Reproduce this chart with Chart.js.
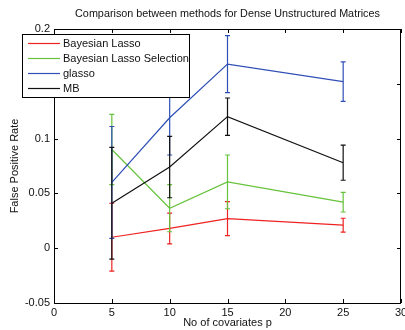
<!DOCTYPE html>
<html>
<head>
<meta charset="utf-8">
<script src="https://cdn.jsdelivr.net/npm/chart.js@4.4.0/dist/chart.umd.min.js"></script>
<style>
html, body { margin: 0; padding: 0; background: #fff; }
</style>
</head>
<body>
<canvas id="chartgraph" width="405" height="330"></canvas>
<script>
// data
var covariates = [5, 10, 15, 25];

var lasso        = [0.010, 0.018, 0.027, 0.021];
var lassoErr     = [0.031, 0.014, 0.0155, 0.0063];
var selection    = [0.090, 0.0365, 0.0605, 0.042];
var selectionErr = [0.032, 0.0215, 0.0245, 0.009];
var glasso       = [0.060, 0.119, 0.168, 0.152];
var glassoErr    = [0.051, 0.034, 0.026, 0.018];
var mb           = [0.041, 0.074, 0.120, 0.078];
var mbErr        = [0.051, 0.028, 0.017, 0.016];

var seriesNames = ['Bayesian Lasso', 'Bayesian Lasso Selection', 'glasso', 'MB'];
var seriesColors = ['#ee2222', '#66c23a', '#2f4fb5', '#111111'];
var seriesValues = [lasso, selection, glasso, mb];
var seriesErrors = [lassoErr, selectionErr, glassoErr, mbErr];

var xTicksMin = 0, xTicksMax = 30, xStep = 5;
var yTicksMin = -0.05, yTicksMax = 0.2, yStep = 0.05;

var fontFam = '"Liberation Sans", Arial, Helvetica, sans-serif';

function toPoints(vals) {
  return vals.map(function(v, i) { return {x: covariates[i], y: v}; });
}

var datasets = seriesNames.map(function(name, i) {
  return {
    label: name,
    data: toPoints(seriesValues[i]),
    borderColor: seriesColors[i],
    backgroundColor: seriesColors[i],
    borderWidth: 1.2,
    pointRadius: 0,
    tension: 0,
    order: seriesNames.length - i
  };
});

// error bars, axes box, inner ticks and the boxed legend
var matlabStyle = {
  id: 'matlabStyle',
  afterDatasetDraw: function(chart, args) {
    var i = args.index;
    var c = chart.ctx, xs = chart.scales.x, ys = chart.scales.y;
    var vals = seriesValues[i], errs = seriesErrors[i];
    c.save();
    c.strokeStyle = seriesColors[i];
    c.lineWidth = 1.2;
    c.beginPath();
    for (var k = 0; k < vals.length; k++) {
      var px = xs.getPixelForValue(covariates[k]);
      var top = ys.getPixelForValue(vals[k] + errs[k]);
      var bot = ys.getPixelForValue(vals[k] - errs[k]);
      c.moveTo(px, top); c.lineTo(px, bot);
      c.moveTo(px - 2.5, top); c.lineTo(px + 2.5, top);
      c.moveTo(px - 2.5, bot); c.lineTo(px + 2.5, bot);
    }
    c.stroke();
    c.restore();
  },
  afterDraw: function(chart) {
    var c = chart.ctx, a = chart.chartArea;
    var xs = chart.scales.x, ys = chart.scales.y;
    c.save();
    c.strokeStyle = '#000';
    c.lineWidth = 1;
    c.beginPath();
    xs.ticks.forEach(function(t) {
      var px = Math.round(xs.getPixelForValue(t.value)) + 0.5;
      c.moveTo(px, a.bottom); c.lineTo(px, a.bottom - 4);
      c.moveTo(px, a.top); c.lineTo(px, a.top + 4);
    });
    ys.ticks.forEach(function(t) {
      var py = Math.round(ys.getPixelForValue(t.value)) + 0.5;
      c.moveTo(a.left, py); c.lineTo(a.left + 4, py);
      c.moveTo(a.right, py); c.lineTo(a.right - 4, py);
    });
    c.stroke();
    c.strokeRect(Math.round(a.left) + 0.5, Math.round(a.top) + 0.5,
                 Math.round(a.right - a.left) - 1, Math.round(a.bottom - a.top));

    // legend box
    var lx = 22.5, ly = 34.5, lw = 167, lh = 63;
    c.fillStyle = '#fff';
    c.fillRect(lx, ly, lw, lh);
    c.strokeStyle = '#000';
    c.strokeRect(lx, ly, lw, lh);
    c.font = '11px ' + fontFam;
    c.textBaseline = 'middle';
    c.textAlign = 'left';
    seriesNames.forEach(function(name, i) {
      var ry = 43.5 + 15 * i;
      c.strokeStyle = seriesColors[i];
      c.lineWidth = 1.2;
      c.beginPath();
      c.moveTo(28, ry); c.lineTo(60, ry);
      c.stroke();
      c.fillStyle = '#111';
      c.fillText(name, 63, ry + 0.5);
    });
    c.restore();
  }
};

var ctx = document.getElementById('chartgraph').getContext('2d');

var chart = new Chart(ctx, {
  type: 'line',
  data: { datasets: datasets },
  options: {
    responsive: false,
    animation: false,
    layout: { padding: { left: 0, right: 4, top: 0, bottom: 0 } },
    plugins: {
      legend: { display: false },
      tooltip: { enabled: false },
      title: {
        display: true,
        text: 'Comparison between methods for Dense Unstructured Matrices',
        color: '#111',
        font: { family: fontFam, size: 10.8, weight: 'normal' },
        padding: { top: 8, bottom: 8 },
        fullSize: false
      }
    },
    scales: {
      x: {
        type: 'linear',
        min: xTicksMin,
        max: xTicksMax,
        grid: { display: false, drawTicks: false },
        border: { display: false },
        ticks: {
          stepSize: xStep,
          color: '#111',
          padding: 3,
          maxRotation: 0,
          font: { family: fontFam, size: 11 }
        },
        title: {
          display: true,
          text: 'No of covariates p',
          color: '#111',
          font: { family: fontFam, size: 11 },
          padding: { top: 0, bottom: 0 }
        },
        afterFit: function(s) { s.height = 27; s.paddingLeft = 0; s.paddingRight = 0; }
      },
      y: {
        min: yTicksMin,
        max: yTicksMax,
        grid: { display: false, drawTicks: false },
        border: { display: false },
        ticks: {
          stepSize: yStep,
          color: '#111',
          padding: 4,
          font: { family: fontFam, size: 11 },
          callback: function(v) { return String(Number(v.toFixed(2))); }
        },
        title: {
          display: true,
          text: 'False Positive Rate',
          color: '#111',
          font: { family: fontFam, size: 11 },
          padding: { top: 8, bottom: 0 }
        },
        afterFit: function(s) { s.width = 54; s.paddingTop = 0; s.paddingBottom = 0; }
      }
    }
  },
  plugins: [matlabStyle]
});
</script>
</body>
</html>
